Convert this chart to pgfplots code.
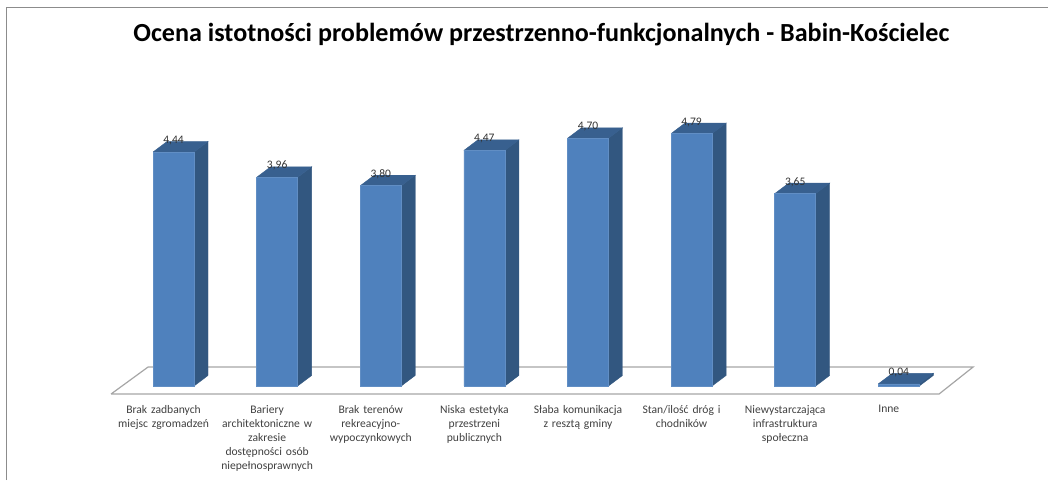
\documentclass[border=0pt]{standalone}
\usepackage{pgfplots}
\pgfplotsset{compat=1.18}
\usepackage{fontspec}
\setmainfont{Carlito}
\definecolor{barfront}{HTML}{4F81BD}
\definecolor{barside}{HTML}{325780}
\definecolor{bartop}{HTML}{38608F}
\definecolor{frame}{HTML}{8C8C8C}
\begin{document}
\begin{tikzpicture}[x=1pt,y=1pt]
\useasboundingbox (0pt,0pt) rectangle (1048pt,480pt);
\draw[frame,line width=1.3pt] (6.5pt,0pt) -- (6.5pt,472.5pt) -- (1048pt,472.5pt);
\begin{axis}[
  at={(0pt,82pt)}, anchor=south west,
  scale only axis, width=1048pt, height=398pt,
  xmin=-1.675, xmax=8.44, ymin=-0.228, ymax=7.325,
  clip=false,
  axis line style={draw=none},
  tick style={draw=none},
  ytick=\empty,
  xtick={0,1,2,3,4,5,6,7},
  xticklabels={
    {Brak zadbanych\\miejsc zgromadzeń},
    {Bariery\\architektoniczne w\\zakresie\\dostępności osób\\niepełnosprawnych},
    {Brak terenów\\rekreacyjno-\\wypoczynkowych},
    {Niska estetyka\\przestrzeni\\publicznych},
    {Słaba komunikacja\\z resztą gminy},
    {Stan/ilość dróg i\\chodników},
    {Niewystarczająca\\infrastruktura\\społeczna},
    {Inne}},
  xticklabel style={font=\fontsize{11.6}{14}\selectfont, align=center, text width=102pt, anchor=north, yshift=-4pt, xshift=-10pt, text=black!75},
  title={\textbf{Ocena istotności problemów przestrzenno-funkcjonalnych - Babin-Kościelec}},
  title style={font=\fontsize{26.1}{30}\selectfont, at={(axis cs:3.55,6.55)}, anchor=center},
]
% floor
\addplot[draw=black!35, fill=white, line width=1.2pt] coordinates {(-0.603,-0.152) (-0.246,0.36) (7.717,0.36) (7.389,-0.152) (-0.603,-0.152)};
% side faces
\addplot[fill=barside,draw=barside] coordinates {(0.198,0) (0.333,0.2) (0.333,4.64) (0.198,4.44) (0.198,0)};
\addplot[fill=barside,draw=barside] coordinates {(1.198,0) (1.333,0.2) (1.333,4.16) (1.198,3.96) (1.198,0)};
\addplot[fill=barside,draw=barside] coordinates {(2.198,0) (2.333,0.2) (2.333,4.00) (2.198,3.80) (2.198,0)};
\addplot[fill=barside,draw=barside] coordinates {(3.198,0) (3.333,0.2) (3.333,4.67) (3.198,4.47) (3.198,0)};
\addplot[fill=barside,draw=barside] coordinates {(4.198,0) (4.333,0.2) (4.333,4.90) (4.198,4.70) (4.198,0)};
\addplot[fill=barside,draw=barside] coordinates {(5.198,0) (5.333,0.2) (5.333,4.99) (5.198,4.79) (5.198,0)};
\addplot[fill=barside,draw=barside] coordinates {(6.198,0) (6.333,0.2) (6.333,3.85) (6.198,3.65) (6.198,0)};
\addplot[fill=barside,draw=barside] coordinates {(7.198,0) (7.333,0.2) (7.333,0.24) (7.198,0.04) (7.198,0)};
% top faces
\addplot[fill=bartop,draw=bartop] coordinates {(-0.198,4.44) (-0.063,4.64) (0.333,4.64) (0.198,4.44) (-0.198,4.44)};
\addplot[fill=bartop,draw=bartop] coordinates {(0.802,3.96) (0.937,4.16) (1.333,4.16) (1.198,3.96) (0.802,3.96)};
\addplot[fill=bartop,draw=bartop] coordinates {(1.802,3.80) (1.937,4.00) (2.333,4.00) (2.198,3.80) (1.802,3.80)};
\addplot[fill=bartop,draw=bartop] coordinates {(2.802,4.47) (2.937,4.67) (3.333,4.67) (3.198,4.47) (2.802,4.47)};
\addplot[fill=bartop,draw=bartop] coordinates {(3.802,4.70) (3.937,4.90) (4.333,4.90) (4.198,4.70) (3.802,4.70)};
\addplot[fill=bartop,draw=bartop] coordinates {(4.802,4.79) (4.937,4.99) (5.333,4.99) (5.198,4.79) (4.802,4.79)};
\addplot[fill=bartop,draw=bartop] coordinates {(5.802,3.65) (5.937,3.85) (6.333,3.85) (6.198,3.65) (5.802,3.65)};
\addplot[fill=bartop,draw=bartop] coordinates {(6.802,0.04) (6.937,0.24) (7.333,0.24) (7.198,0.04) (6.802,0.04)};
% front faces
\addplot[ybar, bar width=41pt, fill=barfront, draw=barfront!90!white, line width=0.6pt,
  nodes near coords,
  point meta=y,
  every node near coord/.style={font=\fontsize{11.5}{13}\selectfont, text=black!80, anchor=center, yshift=11.5pt,
    /pgf/number format/.cd, fixed, fixed zerofill, precision=2, use comma, assume math mode=true},
] coordinates {(0,4.44) (1,3.96) (2,3.80) (3,4.47) (4,4.70) (5,4.79) (6,3.65) (7,0.04)};
\end{axis}
\end{tikzpicture}
\end{document}
